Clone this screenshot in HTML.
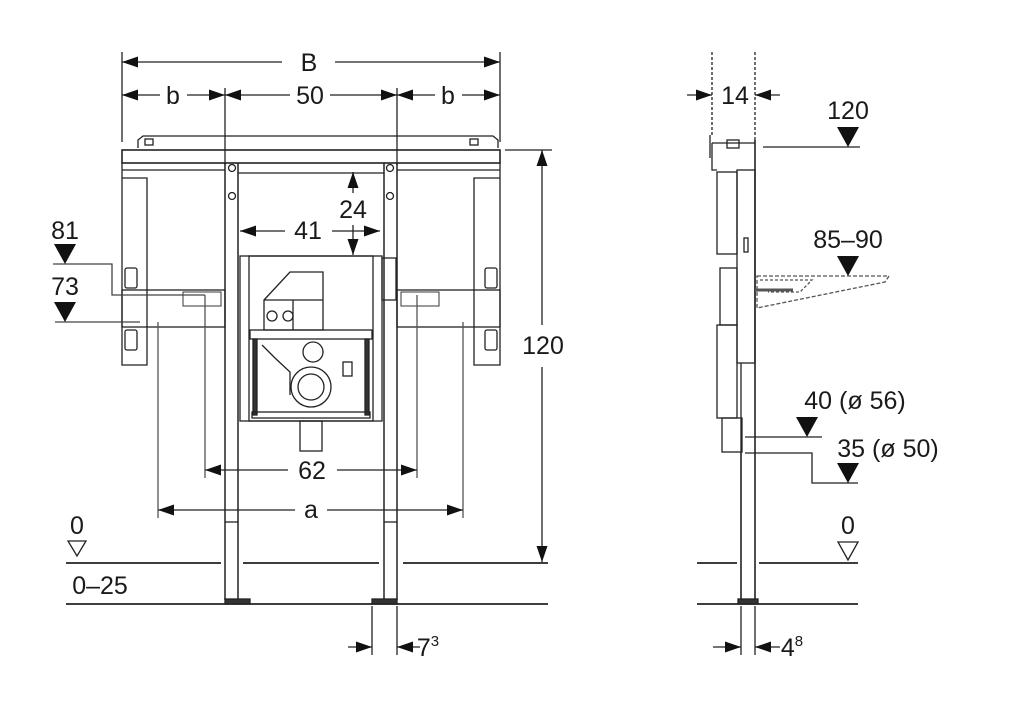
<!DOCTYPE html>
<html><head><meta charset="utf-8"><style>
html,body{margin:0;padding:0;background:#fff;}
svg{display:block;}
text{font-family:"Liberation Sans",sans-serif;fill:#1a1a1a;}
</style></head><body>
<svg width="1024" height="723" viewBox="0 0 1024 723" xmlns="http://www.w3.org/2000/svg">
<defs>
<marker id="ar" viewBox="0 0 16 11" refX="16" refY="5.5" markerWidth="16" markerHeight="11" markerUnits="userSpaceOnUse" orient="auto-start-reverse"><path d="M0,0L16,5.5L0,11z" fill="#111"/></marker>
</defs>
<rect width="1024" height="723" fill="#fff"/>
<g stroke="#222" stroke-width="1.3" fill="none">
<line x1="122" y1="52" x2="122" y2="142"/><line x1="500" y1="52" x2="500" y2="142"/>
<line x1="225" y1="88" x2="225" y2="165"/><line x1="397" y1="88" x2="397" y2="165"/>
<line x1="122" y1="62" x2="282" y2="62" marker-start="url(#ar)"/>
<line x1="335" y1="62" x2="500" y2="62" marker-end="url(#ar)"/>
<line x1="122" y1="95" x2="160" y2="95" marker-start="url(#ar)"/><line x1="187" y1="95" x2="225" y2="95" marker-end="url(#ar)"/>
<line x1="225" y1="95" x2="290" y2="95" marker-start="url(#ar)"/><line x1="330" y1="95" x2="397" y2="95" marker-end="url(#ar)"/>
<line x1="397" y1="95" x2="435" y2="95" marker-start="url(#ar)"/><line x1="462" y1="95" x2="500" y2="95" marker-end="url(#ar)"/>

<path d="M138,148 L138,140 L143,136 L493,136 L498,140 L498,148"/>
<rect x="145" y="139" width="8" height="6"/><rect x="470" y="139" width="8" height="6"/>
<rect x="122" y="150" width="378" height="13" stroke-width="1.6"/>
<line x1="122" y1="170" x2="225" y2="170"/><line x1="397" y1="170" x2="500" y2="170"/>
<path d="M122,163 L122,365 L147,365 L147,178 L122,178"/>
<path d="M500,163 L500,365 L474,365 L474,178 L500,178"/>
<rect x="122" y="290" width="103" height="37"/>
<rect x="397" y="290" width="103" height="37"/>
<rect x="183" y="292" width="38" height="14" stroke-width="0.9"/>
<rect x="401" y="292" width="38" height="14" stroke-width="0.9"/>
<rect x="125" y="268" width="12" height="20" rx="2"/><rect x="125" y="330" width="12" height="20" rx="2"/>
<rect x="485" y="268" width="12" height="20" rx="2"/><rect x="485" y="330" width="12" height="20" rx="2"/>
<path d="M225,163 L225,600 M238,163 L238,600 M384,163 L384,600 M397,163 L397,600" stroke-width="1.5"/>
<line x1="225" y1="522" x2="238" y2="522"/><line x1="384" y1="522" x2="397" y2="522"/>
<circle cx="232" cy="168" r="3.5"/><circle cx="232" cy="196" r="3.5"/><circle cx="390" cy="168" r="3.5"/><circle cx="390" cy="196" r="3.5"/>
<line x1="238" y1="173" x2="384" y2="173"/>
<rect x="240" y="256" width="142" height="165"/>
<rect x="249" y="256" width="124" height="165"/>
<path d="M264,300 L290,272 L323,272 L323,330 L264,330 Z"/>
<line x1="264" y1="300" x2="323" y2="300"/><line x1="293" y1="300" x2="293" y2="330"/>
<circle cx="272" cy="316" r="5"/><circle cx="288" cy="316" r="5"/>
<rect x="250" y="330" width="122" height="9"/>
<rect x="253" y="339" width="4" height="76" fill="#333"/><rect x="365" y="339" width="4" height="76" fill="#333"/>
<rect x="252" y="412" width="118" height="6"/>
<circle cx="313" cy="352" r="10"/>
<circle cx="311" cy="387" r="20"/><circle cx="311" cy="387" r="13"/>
<path d="M262,345 L275,358 L290,372 L290,395"/>
<rect x="343" y="362" width="9" height="14"/>
<rect x="300" y="421" width="22" height="30"/>
<rect x="382" y="258" width="14" height="42"/>

<line x1="353" y1="172" x2="353" y2="193" marker-start="url(#ar)"/>
<line x1="353" y1="225" x2="353" y2="255" marker-end="url(#ar)"/>
<line x1="240" y1="231" x2="285" y2="231" marker-start="url(#ar)"/>
<line x1="332" y1="231" x2="380" y2="231" marker-end="url(#ar)"/>

<path d="M53,264 L112,264 L112,295 L205,295" stroke="#444"/>
<line x1="55" y1="322" x2="140" y2="322" stroke="#444"/>
<line x1="205" y1="295" x2="205" y2="478" stroke="#555"/><line x1="417" y1="295" x2="417" y2="478" stroke="#555"/>
<line x1="158" y1="322" x2="158" y2="518" stroke="#555"/><line x1="463" y1="322" x2="463" y2="518" stroke="#555"/>
<line x1="205" y1="470" x2="288" y2="470" marker-start="url(#ar)"/><line x1="337" y1="470" x2="417" y2="470" marker-end="url(#ar)"/>
<line x1="158" y1="510" x2="295" y2="510" marker-start="url(#ar)"/><line x1="327" y1="510" x2="463" y2="510" marker-end="url(#ar)"/>
<line x1="505" y1="150" x2="552" y2="150"/>
<line x1="542" y1="150" x2="542" y2="325" marker-start="url(#ar)"/>
<line x1="542" y1="367" x2="542" y2="562" marker-end="url(#ar)"/>
<path d="M66,563 L221,563 M243,563 L379,563 M403,563 L548,563" stroke-width="1.8"/>
<line x1="66" y1="604" x2="548" y2="604" stroke-width="1.8"/>
<path d="M68,541 L86,541 L77,556 Z"/>
<rect x="225" y="599" width="25" height="5" fill="#333"/><rect x="372" y="599" width="25" height="5" fill="#333"/>
<line x1="372" y1="606" x2="372" y2="655"/><line x1="397" y1="606" x2="397" y2="655"/>
<line x1="348" y1="647" x2="372" y2="647" marker-end="url(#ar)"/>
<line x1="420" y1="647" x2="397" y2="647" marker-end="url(#ar)"/>

<!-- RIGHT VIEW -->
<line x1="712" y1="52" x2="712" y2="135" stroke-dasharray="3,2"/>
<line x1="755" y1="52" x2="755" y2="140" stroke-dasharray="3,2"/>
<line x1="687" y1="95" x2="712" y2="95" marker-end="url(#ar)"/>
<line x1="780" y1="95" x2="755" y2="95" marker-end="url(#ar)"/>
<line x1="763" y1="147" x2="860" y2="147"/>
<path d="M710,158 L710,135 M712,143 L755,143 M712,143 L712,170 L717,170"/>
<rect x="727" y="140" width="12" height="8"/>
<line x1="755" y1="140" x2="755" y2="604" stroke-width="1.6"/>
<line x1="741" y1="452" x2="741" y2="604" stroke-width="1.6"/>
<rect x="737" y="170" width="18" height="193"/>
<rect x="717" y="172" width="20" height="82"/>
<rect x="720" y="268" width="17" height="57"/>
<rect x="717" y="325" width="20" height="93"/>
<rect x="722" y="418" width="20" height="34"/>
<line x1="741" y1="363" x2="741" y2="452"/>
<rect x="744" y="238" width="4" height="14"/>
<path d="M757,276 L889,276 L885,282 L757,308 Z" stroke-dasharray="4,2" stroke="#555"/>
<path d="M760,280 L812,280 L800,292 L768,292" stroke-dasharray="3,2" stroke="#555"/>
<line x1="755" y1="290" x2="793" y2="290" stroke-width="3" stroke="#555"/>
<line x1="745" y1="437" x2="822" y2="437"/>
<path d="M745,453 L812,453 L812,483 L858,483"/>
<path d="M697,563 L737,563 M759,563 L858,563" stroke-width="1.8"/>
<line x1="697" y1="604" x2="858" y2="604" stroke-width="1.8"/>
<path d="M838,542 L858,542 L848,560 Z"/>
<rect x="738" y="599" width="20" height="5" fill="#333"/>
<line x1="741" y1="606" x2="741" y2="655"/><line x1="755" y1="606" x2="755" y2="655"/>
<line x1="713" y1="647" x2="741" y2="647" marker-end="url(#ar)"/>
<line x1="780" y1="647" x2="755" y2="647" marker-end="url(#ar)"/>
</g>
<g fill="#111">
<path d="M54,244 L76,244 L65,264 Z"/>
<path d="M54,302 L76,302 L65,322 Z"/>
<path d="M837,127 L859,127 L848,147 Z"/>
<path d="M837,256 L859,256 L848,276 Z"/>
<path d="M796,417 L818,417 L807,437 Z"/>
<path d="M837,463 L859,463 L848,483 Z"/>
</g>
<g font-size="25" text-anchor="middle">
<text x="309" y="71">B</text>
<text x="173" y="104">b</text><text x="310" y="104">50</text><text x="448" y="104">b</text>
<text x="353" y="218">24</text><text x="308" y="239">41</text>
<text x="65" y="239">81</text><text x="65" y="295">73</text>
<text x="312" y="479">62</text><text x="311" y="518">a</text>
<text x="543" y="354">120</text>
<text x="77" y="534">0</text>
<text x="100" y="594">0–25</text>
<text x="428" y="656">7<tspan font-size="15" dy="-10">3</tspan></text>
<text x="735" y="104">14</text>
<text x="848" y="119">120</text>
<text x="848" y="248">85–90</text>
<text x="855" y="409">40 (ø 56)</text>
<text x="888" y="457">35 (ø 50)</text>
<text x="848" y="534">0</text>
<text x="792" y="656">4<tspan font-size="15" dy="-10">8</tspan></text>
</g>
</svg>
</body></html>
